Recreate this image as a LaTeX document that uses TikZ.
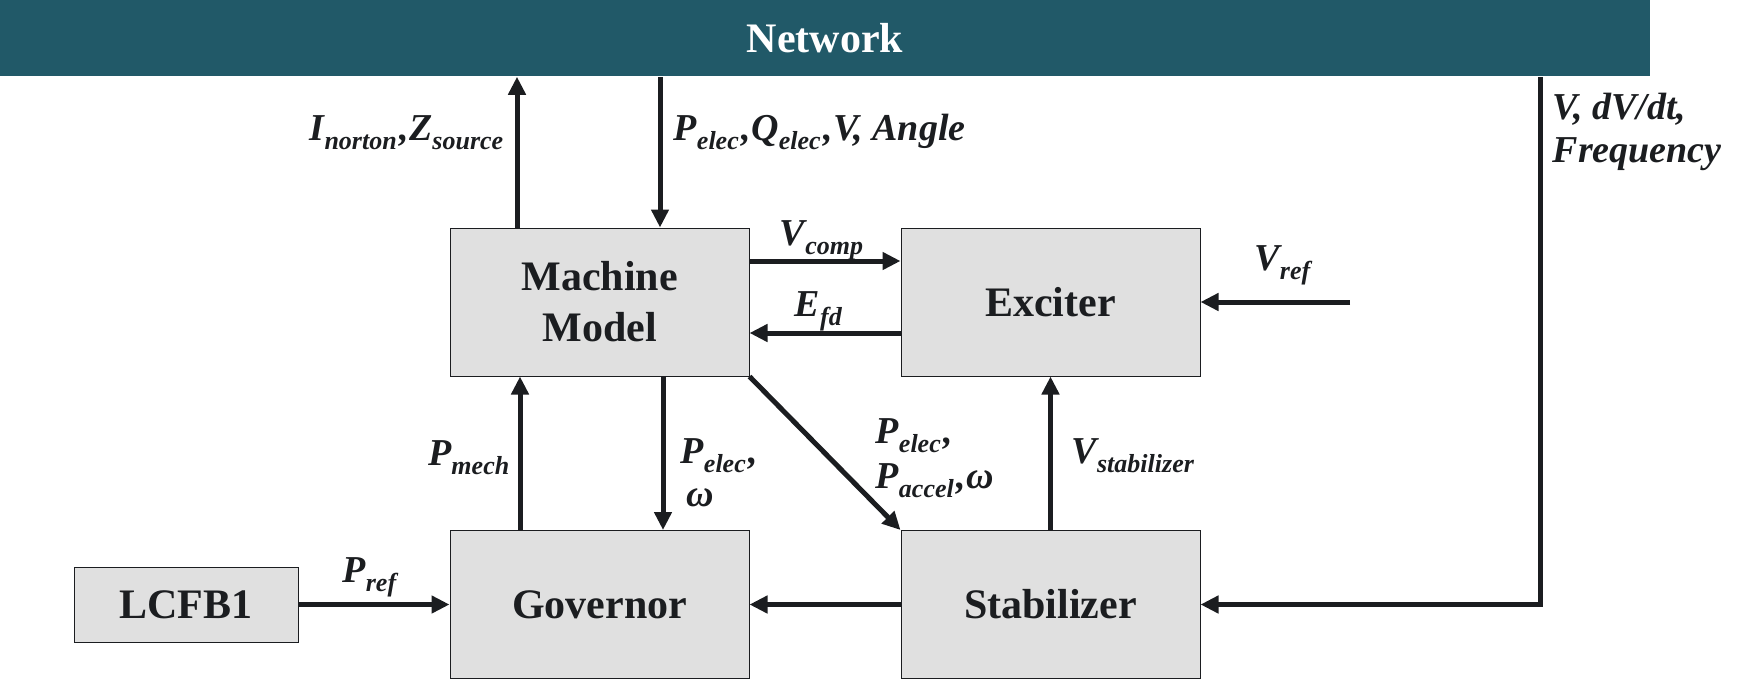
\documentclass[tikz,border=0pt]{standalone}
\usepackage{fontspec}
\setmainfont{Liberation Serif}
\usetikzlibrary{arrows.meta}

\definecolor{netteal}{RGB}{33,89,104}
\definecolor{boxgray}{RGB}{224,224,224}
\definecolor{inkblack}{RGB}{27,29,32}

\newcommand{\lsub}[1]{\raisebox{-4.5pt}{\fontsize{13}{13}\selectfont #1\/}\kern1.5pt}

\tikzset{every picture/.style={line width=0.75pt}}
\tikzset{
  netbar/.style={fill=netteal, minimum width=825pt, minimum height=38pt, inner sep=0pt,
    text=white, font=\fontsize{21}{24}\selectfont\bfseries},
  blk/.style={draw=inkblack, line width=0.5pt, fill=boxgray, minimum width=149.5pt,
    minimum height=74pt, inner sep=0pt, align=center, text=inkblack,
    font=\fontsize{21}{25.5}\selectfont\bfseries},
  sig/.style={draw=inkblack, line width=2.5pt, -{Triangle[length=9pt,width=8.5pt]}},
  lbl/.style={inner sep=0pt, text=inkblack, font=\fontsize{19}{21.5}\selectfont\bfseries\itshape}
}

\begin{document}
\begin{tikzpicture}[x=0.5pt,y=0.5pt,yscale=-1,xscale=1]
\useasboundingbox (0,0) rectangle (1750,681);

%Shape: Network bar
\node[netbar] (net) at (825,38) {Network};

%Shape: Rectangle blocks
\node[blk] (machine) at (599.5,302) {Machine\\Model};
\node[blk] (exciter) at (1050.5,302) {Exciter};
\node[blk] (governor) at (599.5,604.5) {Governor};
\node[blk] (stabilizer) at (1050.5,604.5) {Stabilizer};
\node[blk, minimum width=112pt, minimum height=37.5pt] (lcfb) at (186,604.5) {LCFB1};

% taps
\coordinate (inortonx) at (517,0);
\coordinate (pelecx) at (660,0);
\coordinate (vcompy) at (0,261);
\coordinate (efdy) at (0,333);
\coordinate (pmechx) at (520,0);
\coordinate (pgovx) at (663,0);
\coordinate (busx) at (1540,0);
\coordinate (vrefin) at (1350,302);

%Straight Lines
\draw[sig] (machine.north -| inortonx) -- (net.south -| inortonx);
\draw[sig] (net.south -| pelecx) -- (machine.north -| pelecx);
\draw[sig] (machine.east |- vcompy) -- (exciter.west |- vcompy);
\draw[sig] (exciter.west |- efdy) -- (machine.east |- efdy);
\draw[sig] (vrefin) -- (exciter.east);
\draw[sig] (machine.south -| pgovx) -- (governor.north -| pgovx);
\draw[sig] (governor.north -| pmechx) -- (machine.south -| pmechx);
\draw[sig] (machine.south east) -- (stabilizer.north west);
\draw[sig] (stabilizer.north) -- (exciter.south);
\draw[sig] (stabilizer.west) -- (governor.east);
\draw[sig] (lcfb.east) -- (governor.west);
\draw[sig] (net.south -| busx) |- (stabilizer.east);

% Text Node
\node[lbl, anchor=base east] (inorton) at (507,140) {I\lsub{norton},Z\lsub{source}};
% Text Node
\node[lbl, anchor=base west] (pnet) at (673,140) {P\lsub{elec},Q\lsub{elec},V, Angle};
% Text Node
\node[lbl, anchor=base] (vcomp) at (823,245) {V\lsub{comp}};
% Text Node
\node[lbl, anchor=base] (efd) at (820,316) {E\lsub{fd}};
% Text Node
\node[lbl, anchor=base] (vref) at (1285,270) {V\lsub{ref}};
% Text Node
\node[lbl, anchor=north west, align=left] (busmeas) at (1552,92) {V, dV/dt,\\Frequency};
% Text Node
\node[lbl, anchor=base east] (pmech) at (513,465) {P\lsub{mech}};
% Text Node
\node[lbl, anchor=north west, align=left] (pgov) at (680,438) {P\lsub{elec},\\\kern3pt ω};
% Text Node
\node[lbl, anchor=north west, align=left, font=\fontsize{19}{22.5}\selectfont\bfseries\itshape] (pstab) at (875,418) {P\lsub{elec},\\P\lsub{accel},ω};
% Text Node
\node[lbl, anchor=base west] (vstab) at (1071,463) {V\lsub{stabilizer}};
% Text Node
\node[lbl, anchor=base] (pref) at (372,582) {P\lsub{ref}};

\end{tikzpicture}
\end{document}
